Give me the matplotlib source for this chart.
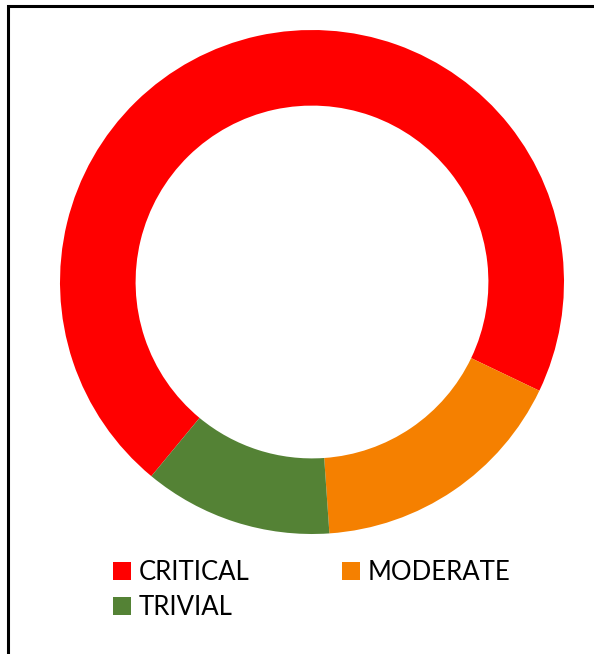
import matplotlib.pyplot as plt
from matplotlib.patches import Patch, Rectangle

plt.rcParams['font.family'] = ['Lato', 'DejaVu Sans']

labels = ["CRITICAL", "MODERATE", "TRIVIAL"]
values = [71.1, 16.8, 12.1]
colors = ["#FF0000", "#F58000", "#548235"]

W, H = 594, 654
fig = plt.figure(figsize=(W / 100, H / 100), dpi=100)

# donut: centre (312, 282) px, outer radius 252 px
ax = fig.add_axes([60 / W, (H - 534) / H, 504 / W, 504 / H])
ax.pie(values, colors=colors, startangle=-129.6, counterclock=False,
       radius=1, wedgeprops=dict(width=0.3, linewidth=0))
ax.set_xlim(-1, 1)
ax.set_ylim(-1, 1)
ax.set_aspect("equal")
ax.axis("off")

# legend (column-wise order: CRITICAL, TRIVIAL | MODERATE)
handles = [Patch(facecolor=c, edgecolor="none") for c in colors]
order = [0, 2, 1]
fig.legend([handles[i] for i in order], [labels[i] for i in order],
           ncol=2, loc="upper left", bbox_to_anchor=(113 / W, 1 - 560 / H),
           frameon=False, fontsize=18.5, handlelength=0.7, handleheight=0.7,
           handletextpad=0.3, columnspacing=3.6, labelspacing=0.4,
           borderaxespad=0, borderpad=0)

# chart border (left and top visible)
fig.patches.append(Rectangle((8 / W, -0.05), 1.2, 1 - 6 / H + 0.05,
                             transform=fig.transFigure, fill=False,
                             edgecolor="black", linewidth=2.2))

fig.savefig("out.png", dpi=100)
